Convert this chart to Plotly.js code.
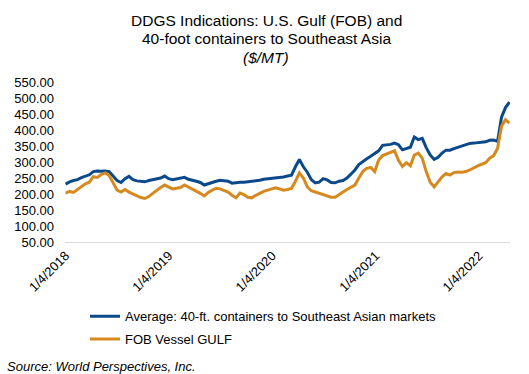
<!DOCTYPE html>
<html>
<head>
<meta charset="utf-8">
<script src="https://cdn.plot.ly/plotly-3.0.1.min.js"></script>
<style>html,body{margin:0;padding:0;background:#fff;}#chart{width:529px;height:374px;}</style>
</head>
<body>
<div id="chart"></div>
<script>
const dates = [
"2018-01-04","2018-01-18","2018-02-01","2018-02-15","2018-03-01","2018-03-15","2018-03-29","2018-04-12","2018-04-26","2018-05-10","2018-05-24","2018-06-07","2018-06-21","2018-07-05","2018-07-19","2018-08-02","2018-08-16","2018-08-30","2018-09-13","2018-09-27","2018-10-11","2018-10-25","2018-11-08","2018-11-22","2018-12-06","2018-12-20",
"2019-01-03","2019-01-17","2019-01-31","2019-02-14","2019-02-28","2019-03-14","2019-03-28","2019-04-11","2019-04-25","2019-05-09","2019-05-23","2019-06-06","2019-06-20","2019-07-04","2019-07-18","2019-08-01","2019-08-15","2019-08-29","2019-09-12","2019-09-26","2019-10-10","2019-10-24","2019-11-07","2019-11-21","2019-12-05","2019-12-19",
"2020-01-02","2020-01-16","2020-01-30","2020-02-13","2020-02-27","2020-03-12","2020-03-26","2020-04-09","2020-04-23","2020-05-07","2020-05-21","2020-06-04","2020-06-18","2020-07-02","2020-07-16","2020-07-30","2020-08-13","2020-08-27","2020-09-10","2020-09-24","2020-10-08","2020-10-22","2020-11-05","2020-11-19","2020-12-03","2020-12-17","2020-12-31",
"2021-01-14","2021-01-28","2021-02-11","2021-02-25","2021-03-11","2021-03-25","2021-04-08","2021-04-22","2021-05-06","2021-05-20","2021-06-03","2021-06-17","2021-07-01","2021-07-15","2021-07-29","2021-08-12","2021-08-26","2021-09-09","2021-09-23","2021-10-07","2021-10-21","2021-11-04","2021-11-18","2021-12-02","2021-12-16","2021-12-30",
"2022-01-13","2022-01-27","2022-02-10","2022-02-24","2022-03-10","2022-03-24","2022-04-07","2022-04-21"
];
const containers = [
231,238,242,245,251,255,260,270,272,271,272,270,255,242,236,248,255,245,241,240,238,242,245,248,250,256,
248,245,247,250,252,246,244,240,236,228,232,237,240,243,242,240,234,236,237,237,238,240,240,243,246,247,
248,250,252,253,256,259,285,308,285,268,245,235,237,248,244,236,235,240,242,250,262,275,292,302,310,318,326,
335,352,353,355,359,354,338,342,346,378,370,374,345,322,308,315,328,337,337,342,346,350,354,358,359,361,
362,363,368,369,364,440,470,487
];
const fobGulf = [
203,208,205,214,225,232,237,254,252,261,266,258,235,212,206,214,206,200,193,189,186,192,202,212,220,228,
222,216,218,220,228,222,216,210,202,194,205,212,218,216,212,206,196,188,203,198,190,188,196,203,208,212,
216,219,216,212,214,217,240,266,250,222,210,206,203,199,193,190,190,197,206,214,220,228,250,270,280,283,270,
306,320,326,330,335,305,286,298,288,322,328,312,270,237,222,240,254,264,259,267,269,268,270,275,282,288,
293,298,312,320,342,412,432,422
];
const tickDates = ["2018-01-04","2019-01-04","2020-01-04","2021-01-04","2022-01-04"];
const tickLabels = ["1/4/2018","1/4/2019","1/4/2020","1/4/2021","1/4/2022"];
const seriesNames = ["Average: 40-ft. containers to Southeast Asian markets","FOB Vessel GULF"];
const titleLines = ["DDGS Indications: U.S. Gulf (FOB) and","40-foot containers to Southeast Asia","<i>($/MT)</i>"];

const FONT = "Liberation Sans, Arial, sans-serif";
const traces = [
  {x: dates, y: containers, name: seriesNames[0], legendgroup: "a", type: "scatter", mode: "lines",
   line: {color: "#0a4a8a", width: 3}},
  {x: dates, y: fobGulf, name: seriesNames[1], legendgroup: "b", type: "scatter", mode: "lines",
   line: {color: "#d6891f", width: 3}}
];
const titleY = [20, 38.5, 57.5];
const annotations = titleLines.map((t, i) => ({
  text: t, xref: "paper", yref: "paper", x: (266 - 65) / 445, xanchor: "center",
  y: (242 - titleY[i]) / 160, yanchor: "middle", showarrow: false,
  font: {family: FONT, size: 15.5, color: "#000"}
}));
annotations.push({text: "<i>Source: World Perspectives, Inc.</i>", xref: "paper", yref: "paper",
  x: (5 - 65) / 445, xanchor: "left", y: -0.775, yanchor: "middle", showarrow: false,
  font: {family: FONT, size: 13, color: "#000"}});

const layout = {
  width: 529, height: 374,
  margin: {l: 65, r: 19, t: 82, b: 132, pad: 0},
  paper_bgcolor: "#ffffff", plot_bgcolor: "#ffffff",
  font: {family: FONT, size: 13, color: "#000000"},
  xaxis: {type: "date", range: ["2018-01-02", "2022-04-23"],
          tickvals: tickDates, ticktext: tickLabels, tickangle: -45,
          showgrid: false, zeroline: false, showline: true, linecolor: "#d9d9d9", linewidth: 1,
          ticks: "", tickfont: {family: FONT, size: 13, color: "#000"}, automargin: false, fixedrange: true},
  yaxis: {range: [50, 550], tick0: 50, dtick: 50, tickformat: ".2f",
          showgrid: false, zeroline: false, showline: false, ticks: "", ticklabelstandoff: 10,
          tickfont: {family: FONT, size: 13, color: "#000"}, automargin: false, fixedrange: true},
  showlegend: true,
  legend: {orientation: "v", x: (85 - 65) / 445, xanchor: "left", y: -0.37, yanchor: "top",
           font: {family: FONT, size: 13, color: "#000"}, bgcolor: "rgba(0,0,0,0)",
           tracegroupgap: 3, itemwidth: 30},
  annotations: annotations
};
Plotly.newPlot("chart", traces, layout, {displayModeBar: false, staticPlot: true});
</script>
</body>
</html>
